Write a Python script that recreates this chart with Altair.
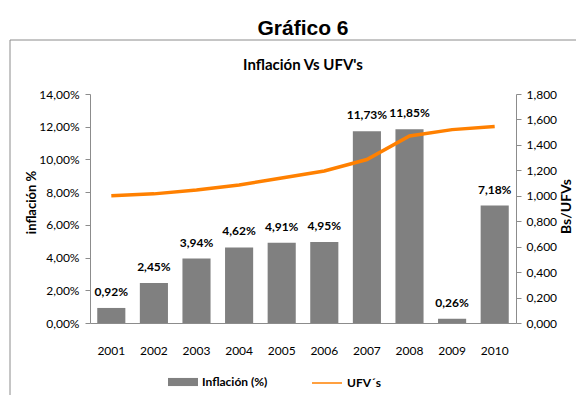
import altair as alt
import pandas as pd

years = ["2001", "2002", "2003", "2004", "2005", "2006", "2007", "2008", "2009", "2010"]
inflacion = [0.92, 2.45, 3.94, 4.62, 4.91, 4.95, 11.73, 11.85, 0.26, 7.18]
ufv = [1.000, 1.015, 1.045, 1.085, 1.140, 1.195, 1.285, 1.470, 1.520, 1.545]
left_ticks = [0, 2, 4, 6, 8, 10, 12, 14]
right_ticks = [0, 0.2, 0.4, 0.6, 0.8, 1.0, 1.2, 1.4, 1.6, 1.8]
serie_bar = "Inflación (%)"
serie_line = "UFV´s"

df = pd.DataFrame({"year": years, "inflacion": inflacion, "ufv": ufv,
                   "s1": serie_bar, "s2": serie_line})

FONT = "Lato"
AXIS_GREY = "#8c8c8c"

legend_common = dict(orient="none", direction="horizontal", title=None,
                     labelFont=FONT, labelFontWeight="bold", labelFontSize=12,
                     labelColor="#000000", symbolSize=900, labelOffset=4)

legend_bar = alt.Legend(legendX=78, legendY=273, symbolType="M-1,-0.27H1V0.27H-1Z",
                        symbolStrokeWidth=0, **legend_common)
legend_line = alt.Legend(legendX=221, legendY=273, symbolType="M-1,0H1",
                         symbolStrokeWidth=1.5, **legend_common)

x = alt.X("year:N", sort=years, title=None,
          scale=alt.Scale(paddingInner=0.34, paddingOuter=0.17),
          axis=alt.Axis(labelAngle=0, ticks=False, domainColor=AXIS_GREY, labelFont=FONT,
                        labelFontSize=12, labelColor="#000000", labelPadding=22))

y_left = alt.Y("inflacion:Q", title="inflación %",
               scale=alt.Scale(domain=[0, 14]),
               axis=alt.Axis(values=left_ticks, grid=False, labelOverlap=False,
                             labelExpr="replace(format(datum.value, '.2f'), '.', ',') + '%'",
                             domainColor=AXIS_GREY, tickColor=AXIS_GREY, tickSize=5,
                             labelPadding=6, labelFont=FONT, labelFontSize=12,
                             labelColor="#000000", titleFont=FONT, titleFontSize=13,
                             titleFontWeight="bold", titleColor="#000000",
                             titleX=-52, titleY=108))

bars = alt.Chart(df).mark_bar().encode(
    x=x,
    y=y_left,
    fill=alt.Fill("s1:N", scale=alt.Scale(domain=[serie_bar], range=["#808080"]),
                  legend=legend_bar),
)

labels = alt.Chart(df).transform_calculate(
    lbl="replace(format(datum.inflacion, '.2f'), '.', ',') + '%'"
).mark_text(font=FONT, fontSize=12, fontWeight="bold", baseline="middle", dy=-16,
            color="#000000").encode(
    x=x,
    y=y_left,
    text="lbl:N",
)

line = alt.Chart(df).mark_line(strokeWidth=3.5).encode(
    x=x,
    y=alt.Y("ufv:Q", title="Bs/UFVs",
            scale=alt.Scale(domain=[0, 1.8]),
            axis=alt.Axis(orient="right", values=right_ticks,
                          grid=False, labelOverlap=False,
                          labelExpr="replace(format(datum.value, '.3f'), '.', ',')",
                          domainColor=AXIS_GREY, tickColor=AXIS_GREY, tickSize=5,
                          labelPadding=5, labelFont=FONT, labelFontSize=12,
                          labelColor="#000000", titleFont=FONT, titleFontSize=14,
                          titleFontWeight="bold", titleColor="#000000",
                          titleAngle=270, titleX=57, titleY=112)),
    stroke=alt.Stroke("s2:N", scale=alt.Scale(domain=[serie_line], range=["#FF8000"]),
                      legend=legend_line),
)

border_v = alt.Chart(alt.Data(values=[{}])).mark_rule(color="#8c8c8c", strokeWidth=1).encode(
    x=alt.value(-80), y=alt.value(-54), y2=alt.value(400))
border_h = alt.Chart(alt.Data(values=[{}])).mark_rule(color="#8c8c8c", strokeWidth=1).encode(
    x=alt.value(-80), x2=alt.value(600), y=alt.value(-54))

left = alt.layer(bars, labels)
chart = alt.layer(left, line, border_v, border_h).resolve_scale(y="independent").properties(
    width=426, height=229,
    autosize=alt.AutoSizeParams(type="none"),
    padding={"left": 82, "top": 86, "right": 60, "bottom": 72},
    title=alt.Title("Gráfico 6", subtitle="Inflación Vs UFV's", anchor="middle",
                    font="Liberation Sans", fontSize=21, fontWeight="bold", color="#000000",
                    subtitleFont=FONT, subtitleFontSize=15, subtitleFontWeight="bold",
                    subtitleColor="#000000", subtitlePadding=19, offset=-33),
).configure_view(stroke=None)

chart.save("out.html", embed_options={"renderer": "svg", "actions": False})
